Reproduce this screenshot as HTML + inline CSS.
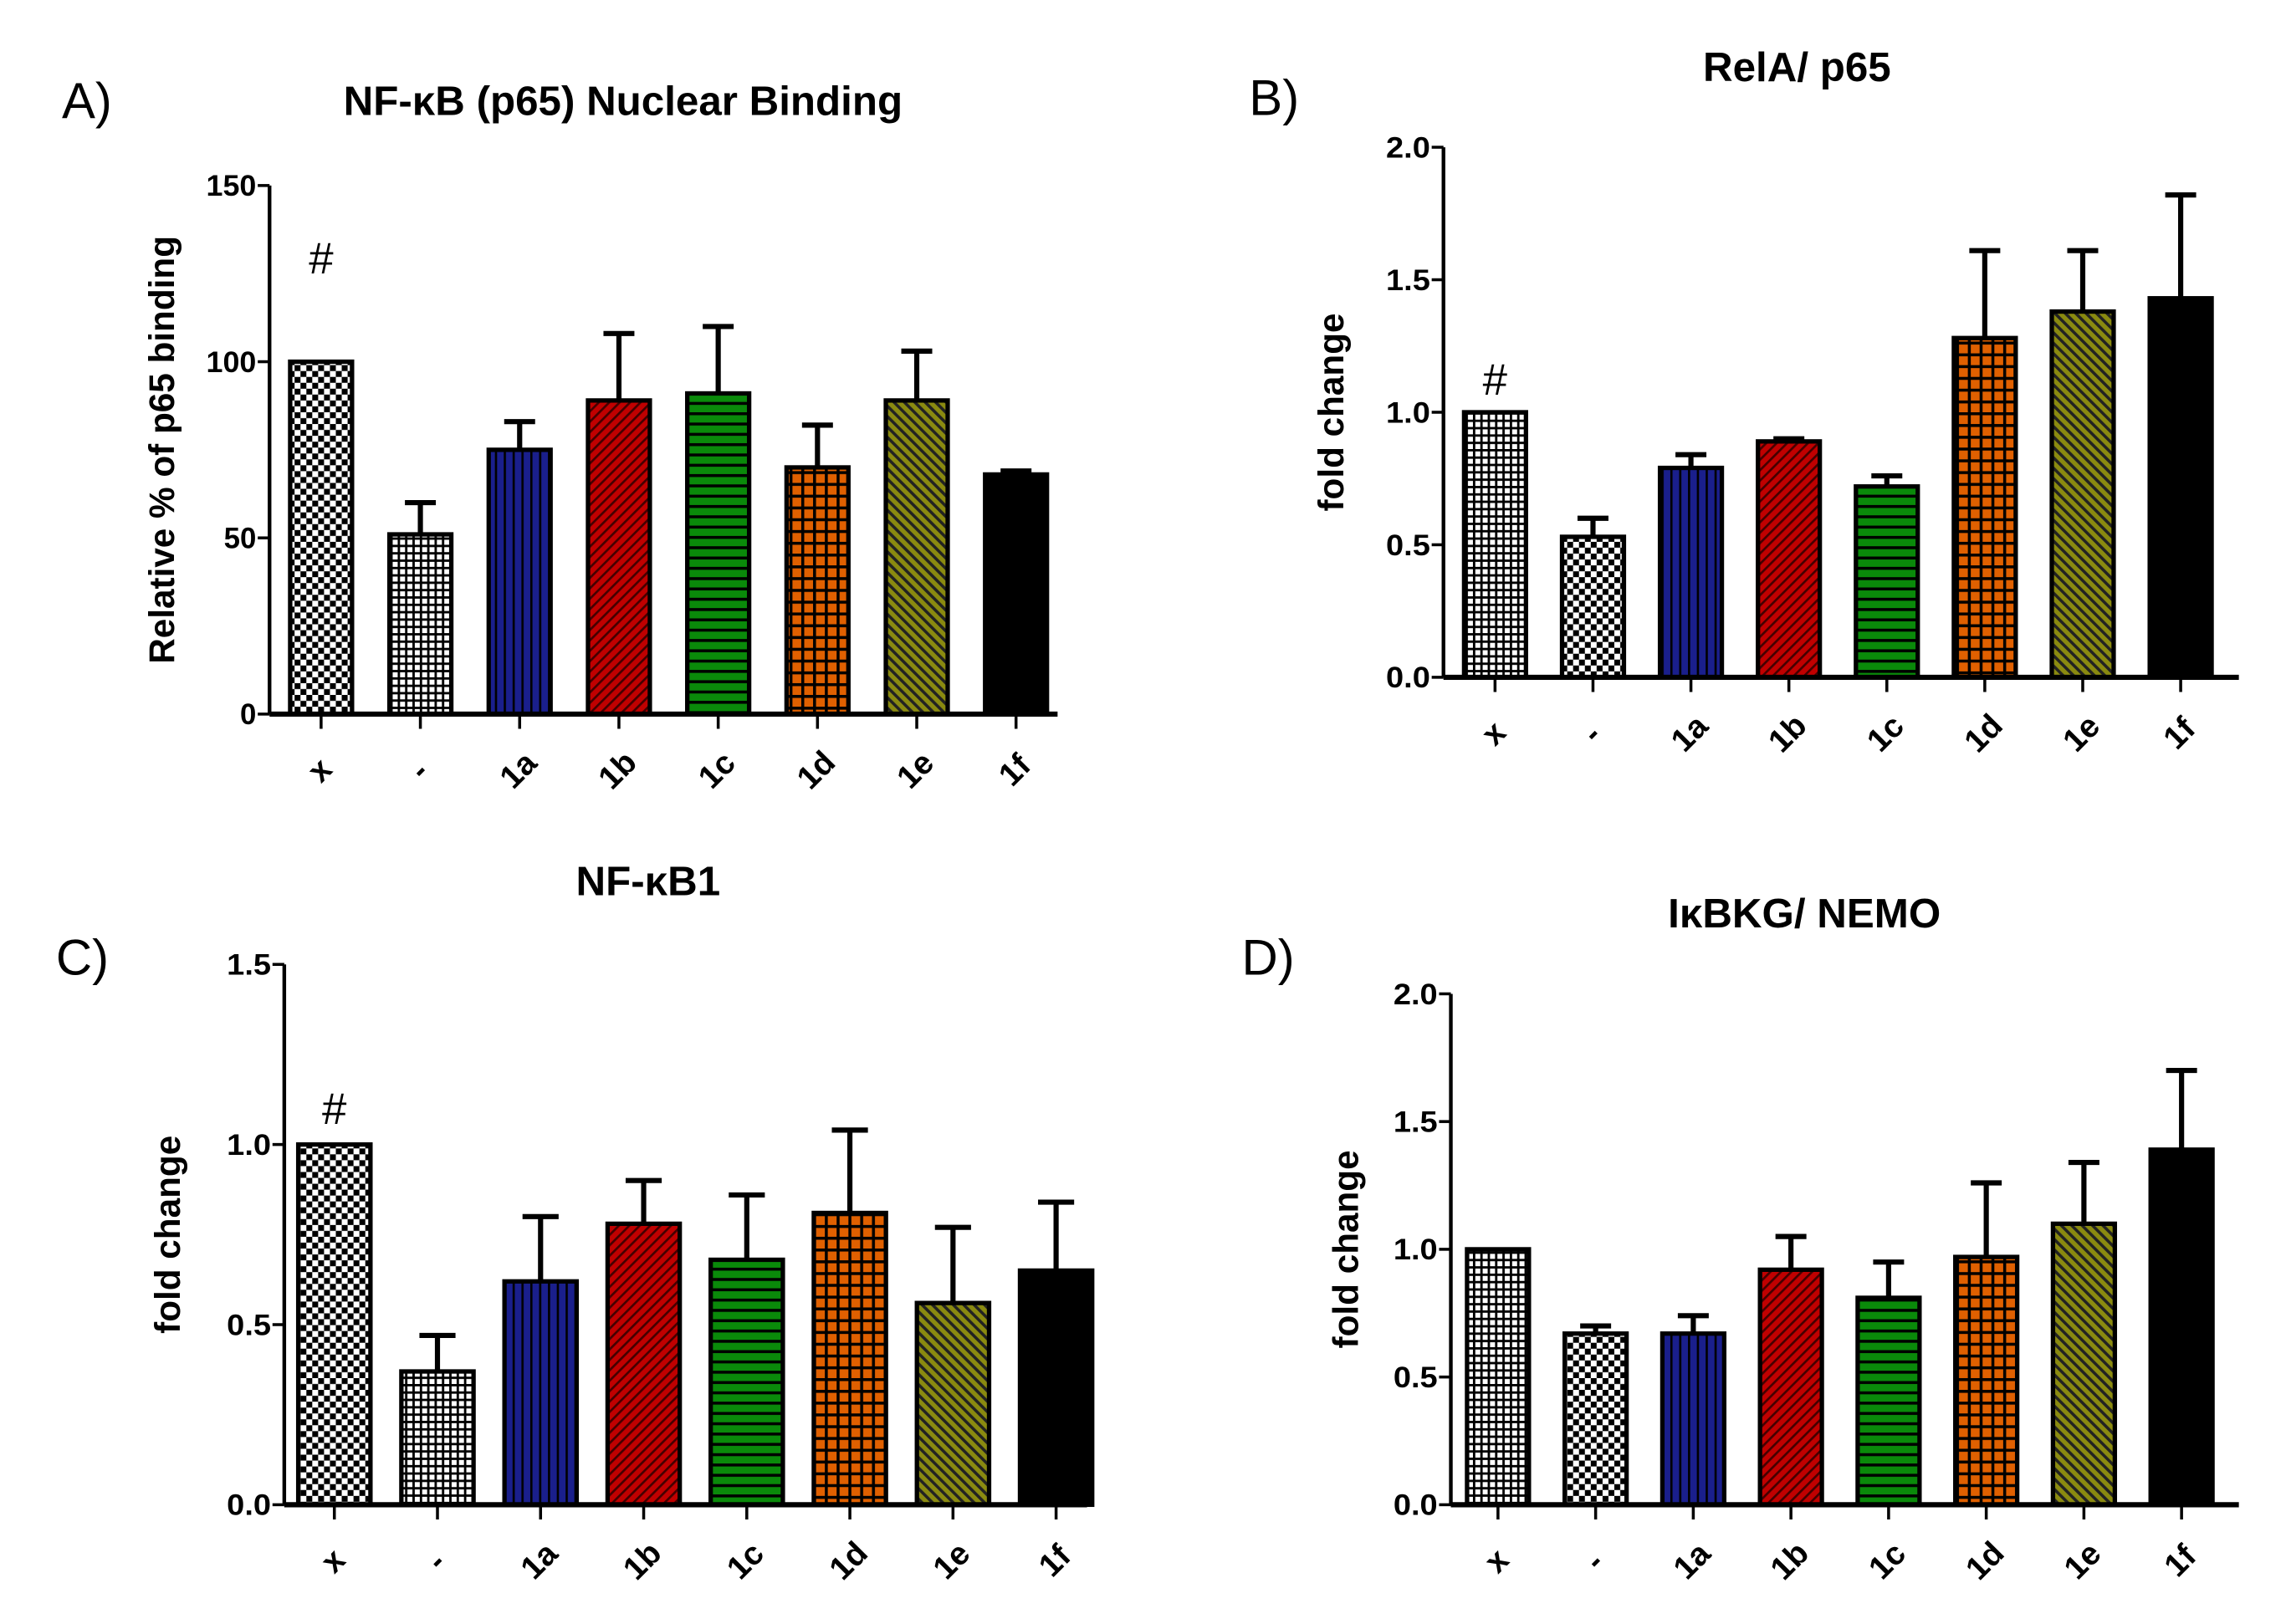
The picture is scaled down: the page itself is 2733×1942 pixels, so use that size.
<!DOCTYPE html>
<html><head><meta charset="utf-8">
<style>
html,body{margin:0;padding:0;background:#fff;}
svg{display:block;}
text{font-family:"Liberation Sans",sans-serif;}
</style></head>
<body>
<svg id="fig" width="2733" height="1942" viewBox="0 0 1552 1103" preserveAspectRatio="none" xmlns="http://www.w3.org/2000/svg">
<defs>
<pattern id="checker" width="8" height="8" patternUnits="userSpaceOnUse"><rect width="8" height="8" fill="#fff"/><rect width="4" height="4" fill="#000"/><rect x="4" y="4" width="4" height="4" fill="#000"/></pattern>
<pattern id="fine" width="5" height="5" patternUnits="userSpaceOnUse"><rect width="5" height="5" fill="#fff"/><rect width="5" height="1.6" fill="#000"/><rect width="1.6" height="5" fill="#000"/></pattern>
<pattern id="blue" width="6" height="6" patternUnits="userSpaceOnUse"><rect width="6" height="6" fill="#1a1f8c"/><rect width="1.5" height="6" fill="#000"/></pattern>
<pattern id="red" width="5" height="5" patternUnits="userSpaceOnUse" patternTransform="rotate(45)"><rect width="5" height="5" fill="#c00000"/><rect width="1.5" height="5" fill="#400"/></pattern>
<pattern id="green" width="6" height="7" patternUnits="userSpaceOnUse"><rect width="6" height="7" fill="#0a8a0a"/><rect width="6" height="2" fill="#000"/></pattern>
<pattern id="orange" width="8" height="8" patternUnits="userSpaceOnUse"><rect width="8" height="8" fill="#e06000"/><rect width="8" height="2" fill="#000"/><rect width="2" height="8" fill="#000"/></pattern>
<pattern id="olive" width="5" height="5" patternUnits="userSpaceOnUse" patternTransform="rotate(-45)"><rect width="5" height="5" fill="#8a8a10"/><rect width="2" height="5" fill="#222"/></pattern>
</defs>
</svg>
<script>
const categories = ["x","-","1a","1b","1c","1d","1e","1f"];
const valsA = [100,51,75,89,91,70,89,68];
const errA  = [100,60,83,108,110,82,103,69];
const valsB = [1.0,0.53,0.79,0.89,0.72,1.28,1.38,1.43];
const errB  = [1.0,0.60,0.84,0.90,0.76,1.61,1.61,1.82];
const valsC = [1.0,0.37,0.62,0.78,0.68,0.81,0.56,0.65];
const errC  = [1.0,0.47,0.80,0.90,0.86,1.04,0.77,0.84];
const valsD = [1.0,0.67,0.67,0.92,0.81,0.97,1.10,1.39];
const errD  = [1.0,0.70,0.74,1.05,0.95,1.26,1.34,1.70];
const ticksA = [0,50,100,150];
const ticksB = [0,0.5,1.0,1.5,2.0];
const ticksC = [0,0.5,1.0,1.5];
const ticksD = [0,0.5,1.0,1.5,2.0];

const NS="http://www.w3.org/2000/svg";
const svg=document.getElementById('fig');
function mk(tag,attrs,parent){const e=document.createElementNS(NS,tag);for(const k in attrs)e.setAttribute(k,attrs[k]);(parent||svg).appendChild(e);return e;}

const panels=[
 {id:'a',letter:'A)',lx:42,ly:80,title:'NF-\u03baB (p65) Nuclear Binding',tx:423,ty:78,ax:183,yTop:126,y0:485,xEnd:718,x0:218,step:67.4,bw:42,max:150,ticks:ticksA,fmt:v=>String(v),vals:valsA,err:errA,ylab:'Relative %  of p65 binding',ylx:118,hashOff:60,pats:['checker','fine','blue','red','green','orange','olive','#000']},
 {id:'b',letter:'B)',lx:848,ly:78,title:'RelA/ p65',tx:1220,ty:55,ax:980,yTop:100,y0:460,xEnd:1520,x0:1015,step:66.5,bw:42,max:2,ticks:ticksB,fmt:v=>v.toFixed(1),vals:valsB,err:errB,ylab:'fold change',ylx:912,hashOff:12,pats:['fine','checker','blue','red','green','orange','olive','#000']},
 {id:'c',letter:'C)',lx:38,ly:662,title:'NF-\u03baB1',tx:440,ty:608,ax:193,yTop:655,y0:1022,xEnd:738,x0:227,step:70,bw:49,max:1.5,ticks:ticksC,fmt:v=>v.toFixed(1),vals:valsC,err:errC,ylab:'fold change',ylx:122,hashOff:14,pats:['checker','fine','blue','red','green','orange','olive','#000']},
 {id:'d',letter:'D)',lx:843,ly:662,title:'I\u03baBKG/ NEMO',tx:1225,ty:630,ax:985,yTop:675,y0:1022,xEnd:1520,x0:1017,step:66.3,bw:42,max:2,ticks:ticksD,fmt:v=>v.toFixed(1),vals:valsD,err:errD,ylab:'fold change',ylx:922,hashOff:null,pats:['fine','checker','blue','red','green','orange','olive','#000']}
];

panels.forEach(p=>{
 const g=mk('g',{});
 
 
 const yS=v=>p.y0-(v/p.max)*(p.y0-p.yTop);
 const xS=i=>p.x0+i*p.step;
 let t=mk('text',{x:p.lx,y:p.ly,'font-size':34,fill:'#000'},g);t.textContent=p.letter;
 
 t=mk('text',{x:p.tx,y:p.ty,'font-size':28,'font-weight':'bold','text-anchor':'middle',fill:'#000'},g);t.textContent=p.title;
 
 const mid=(p.yTop+p.y0)/2;
 t=mk('text',{x:p.ylx,y:mid,'font-size':24,'font-weight':'bold','text-anchor':'middle',transform:`rotate(-90 ${p.ylx} ${mid})`,fill:'#000'},g);t.textContent=p.ylab;
 
 p.vals.forEach((v,i)=>{
  const cx=xS(i),top=yS(v);
  const fill=p.pats[i].startsWith('#')?p.pats[i]:`url(#${p.pats[i]})`;
  const r=mk('rect',{x:cx-p.bw/2,y:top,width:p.bw,height:p.y0-top,fill:fill,stroke:'#000','stroke-width':3},g);
  
  const e=p.err[i];
  if(e>v+0.0001){
   const ey=yS(e);
   const l=mk('path',{d:`M${cx} ${top}V${ey}M${cx-p.bw/4} ${ey}H${cx+p.bw/4}`,stroke:'#000','stroke-width':3.5,fill:'none'},g);
   
  }
  if(i===0&&p.hashOff!==null){
   const h=mk('text',{x:cx,y:top-p.hashOff,'font-size':30,'font-family':'Liberation Serif','text-anchor':'middle',fill:'#000'},g);h.textContent='#';
   
  }
  const tk=mk('line',{x1:cx,x2:cx,y1:p.y0,y2:p.y0+10,stroke:'#000','stroke-width':2},g);
  
  const lx=cx,ly=p.y0+45;
  const xl=mk('text',{x:lx,y:ly,'font-size':22,'font-weight':'bold','text-anchor':'middle',transform:`rotate(-45 ${lx} ${ly-6})`,fill:'#000'},g);
  xl.textContent=categories[i];
  
 });
 let a=mk('line',{x1:p.ax,x2:p.ax,y1:p.yTop,y2:p.y0,stroke:'#000','stroke-width':2.5},g);
 
 a=mk('line',{x1:p.ax,x2:p.xEnd,y1:p.y0,y2:p.y0,stroke:'#000','stroke-width':3.5},g);
 
 p.ticks.forEach(v=>{
  const y=yS(v);
  const tl=mk('line',{x1:p.ax-8,x2:p.ax,y1:y,y2:y,stroke:'#000','stroke-width':2},g);
  
  const tt=mk('text',{x:p.ax-9,y:y+7,'font-size':20,'font-weight':'bold','text-anchor':'end',fill:'#000',textLength:p.max===150?(v>=100?34:(v>=10?22:11)):30,lengthAdjust:'spacingAndGlyphs'},g);
  tt.textContent=p.fmt(v);
  
 });
});
</script>
</body></html>
